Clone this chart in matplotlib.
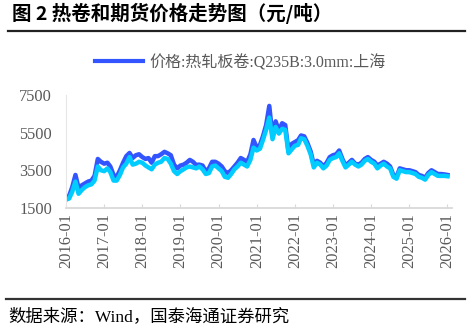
import numpy as np
import pandas as pd
import matplotlib
matplotlib.use('Agg')
import matplotlib.pyplot as plt
from matplotlib.lines import Line2D

plt.rcParams['font.family'] = ['Liberation Serif', 'Noto Sans CJK SC']

months = pd.date_range('2016-01-01', '2026-01-01', freq='MS')

# 价格:热轧板卷:Q235B:3.0mm:上海 (monthly)
spot = [2030, 2150, 2600, 3250, 2560, 2700, 2800, 2900, 2950, 3200, 4100, 3950,
        3850, 3900, 3700, 3250, 3150, 3500, 3900, 4250, 4420, 4150, 4300, 4350,
        4200, 4100, 4150, 3900, 4250, 4250, 4350, 4480, 4400, 4300, 3800, 3600,
        3750, 3800, 3900, 4050, 3950, 3780, 3800, 3750, 3450, 3600, 3950, 3950,
        3850, 3700, 3450, 3350, 3500, 3700, 3900, 4150, 4050, 3950, 4350, 5110,
        4700, 4850, 5300, 5910, 6920, 5300, 6100, 5600, 6000, 5900, 4500, 4900,
        5000, 5100, 5350, 5300, 4950, 4500, 3800, 4000, 3900, 3700, 3900, 4200,
        4300, 4350, 4550, 4100, 3750, 3900, 4050, 3850, 3800, 3900, 4100, 4200,
        4050, 3950, 3750, 3850, 3950, 3850, 3700, 3250, 3150, 3600, 3550, 3500,
        3500, 3450, 3400, 3250, 3200, 3100, 3350, 3500, 3400, 3300, 3300, 3280,
        3250]

# 热卷期货 (second series, not named in the legend)
futures = [1930, 2000, 2350, 2900, 2250, 2450, 2600, 2700, 2750, 2950, 3700, 3500,
           3450, 3600, 3400, 2950, 2950, 3250, 3650, 3850, 4200, 3800, 3850, 3950,
           3900, 3750, 3650, 3550, 3800, 3900, 3950, 4150, 4100, 3850, 3450, 3300,
           3450, 3550, 3650, 3700, 3650, 3600, 3700, 3550, 3300, 3350, 3700, 3750,
           3600, 3450, 3150, 3100, 3300, 3550, 3700, 3900, 3800, 3700, 4050, 4700,
           4550, 4650, 5100, 5650, 6300, 5150, 5800, 5450, 5700, 5650, 4400, 4600,
           4800, 4850, 5200, 5150, 4800, 4350, 3650, 3900, 3800, 3600, 3750, 4050,
           4150, 4200, 4400, 4000, 3650, 3800, 3950, 3800, 3700, 3800, 4000, 4100,
           3950, 3850, 3600, 3750, 3850, 3700, 3600, 3150, 3050, 3500, 3450, 3400,
           3400, 3350, 3300, 3150, 3100, 3000, 3250, 3400, 3300, 3200, 3200, 3200,
           3180]

yticks = [1500, 3500, 5500, 7500]
xticks = pd.date_range('2016-01-01', '2026-01-01', freq='YS')

fig = plt.figure(figsize=(4.71, 3.31), dpi=100)
ax = fig.add_axes([0.140, 0.372, 0.820, 0.341])

ax.plot(months, spot, color='#3355ff', lw=3.2, solid_joinstyle='round')
ax.plot(months, futures, color='#00ccff', lw=3.2, solid_joinstyle='round')

ax.set_ylim(1500, 7500)
ax.set_yticks(yticks)
ax.set_xlim(pd.Timestamp('2016-01-01'), pd.Timestamp('2026-02-15'))
ax.set_xticks(xticks)
ax.set_xticklabels([d.strftime('%Y-%m') for d in xticks], rotation=90)

for s in ['top', 'right']:
    ax.spines[s].set_visible(False)
ax.spines['bottom'].set_color('#d9d9d9')
ax.spines['bottom'].set_linewidth(1.3)
ax.spines['left'].set_color('#e6e6e6')
ax.spines['left'].set_linewidth(0.8)
ax.tick_params(axis='x', direction='in', length=3, color='#d9d9d9', labelsize=11.8,
               labelcolor='#595959', pad=4)
ax.tick_params(axis='y', length=0, labelsize=11.8, labelcolor='#595959', pad=10)

handle = Line2D([], [], color='#3355ff', lw=3)
fig.legend([handle], ['价格:热轧板卷:Q235B:3.0mm:上海'], loc='center',
           bbox_to_anchor=(0.51, 0.81), frameon=False, handlelength=3.0,
           handletextpad=0.4, prop={'size': 11.5}, labelcolor='#595959')

fig.text(0.025, 0.958, '图 2 热卷和期货价格走势图（元/吨）', fontsize=14,
         fontweight='bold', va='center', ha='left',
         family=['Noto Sans CJK SC'])
fig.add_artist(Line2D([0.017, 0.988], [0.905, 0.905], color='#222222', lw=1.6))
fig.add_artist(Line2D([0.013, 0.988], [0.096, 0.096], color='#333333', lw=1.6))
fig.text(0.017, 0.043, '数据来源：Wind，国泰海通证券研究', fontsize=12.5,
         va='center', ha='left')

fig.savefig('out.png', dpi=100)
